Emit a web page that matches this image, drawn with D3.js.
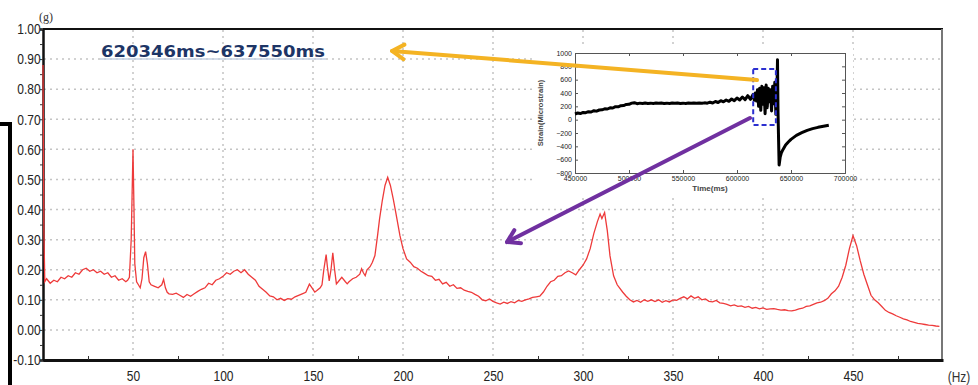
<!DOCTYPE html>
<html>
<head>
<meta charset="utf-8">
<script src="https://cdn.jsdelivr.net/npm/d3@7"></script>
<style>
  body { margin: 0; background: #fff; overflow: hidden; }
  svg { display: block; }
  .tick text { font-family: "Liberation Sans", Arial, sans-serif; fill: #222; }
</style>
</head>
<body>
<svg id="chart" width="978" height="385"></svg>
<script>
// spectrum
var hz = [0,0.5,1,2,4,6,8,10,12,14,16,18,20,22,24,26,28,30,32,34,36,38,40,42,44,46,47,48,49,49.5,50,50.5,51,52,53,54,55,56,57,58,59,60,62,64,66,67,68,69,70,72,74,76,78,80,82,84,86,88,90,92,94,96,98,100,102,104,106,108,110,112,114,116,118,120,122,124,126,128,130,132,134,136,138,140,142,144,146,148,150,151,152,154,155,156,157.3,158,159,160,161,162,163,164,166,168,169,170,172,174,176,177,178,179,180,181.7,183,184.4,186,187,188.5,190,191.5,193,194.6,196,198.3,200,202,204,206,208,210,212,214,216,218,220,222,224,226,228,230,232,234,236,238,240,242,244,246,248,250,252,254,256,258,260,262,264,266,268,270,272,274,276,278,280,282,284,286,288,290,292,294,296,298,300,302,304,306,308,309.5,310.5,312,313.5,315,317,319,322,324,326,328,330,332,334,336,338,340,342,344,346,348,350,352,354,356,358,360,362,364,366,368,370,372,374,376,378,380,382,384,386,388,390,392,394,396,398,400,402,404,406,408,410,412,414,416,418,420,422,424,426,428,430,432,434,436,438,440,442,444,446,448,450,452,454,456,458,460,462,464,466,468,470,472,474,476,478,480,482,484,486,488,490,492,494,496,498];
var amp = [0.88,0.33,0.16,0.17,0.155,0.165,0.16,0.175,0.17,0.18,0.175,0.19,0.185,0.2,0.205,0.195,0.2,0.19,0.195,0.185,0.19,0.175,0.18,0.165,0.17,0.16,0.165,0.175,0.3,0.45,0.6,0.42,0.22,0.16,0.15,0.14,0.17,0.24,0.26,0.22,0.16,0.15,0.145,0.14,0.15,0.168,0.14,0.125,0.12,0.118,0.122,0.115,0.108,0.118,0.112,0.12,0.128,0.135,0.14,0.155,0.15,0.165,0.17,0.178,0.19,0.185,0.195,0.2,0.19,0.2,0.185,0.175,0.165,0.145,0.135,0.125,0.113,0.11,0.1,0.105,0.098,0.104,0.102,0.11,0.115,0.12,0.125,0.152,0.135,0.126,0.13,0.14,0.15,0.2,0.25,0.21,0.163,0.2,0.256,0.2,0.153,0.16,0.175,0.16,0.153,0.16,0.17,0.175,0.185,0.203,0.19,0.18,0.2,0.21,0.225,0.247,0.32,0.37,0.43,0.48,0.507,0.48,0.435,0.39,0.313,0.27,0.236,0.225,0.21,0.205,0.195,0.188,0.18,0.178,0.165,0.168,0.153,0.158,0.145,0.15,0.138,0.14,0.132,0.128,0.125,0.118,0.112,0.1,0.097,0.103,0.095,0.09,0.086,0.092,0.088,0.094,0.09,0.098,0.095,0.1,0.103,0.108,0.11,0.112,0.126,0.145,0.16,0.165,0.178,0.18,0.19,0.196,0.19,0.183,0.2,0.215,0.236,0.27,0.32,0.36,0.385,0.37,0.39,0.33,0.246,0.18,0.15,0.126,0.112,0.1,0.093,0.098,0.092,0.1,0.095,0.1,0.094,0.1,0.092,0.097,0.093,0.1,0.098,0.105,0.11,0.103,0.113,0.105,0.11,0.1,0.103,0.095,0.093,0.098,0.09,0.088,0.085,0.08,0.083,0.078,0.08,0.075,0.078,0.072,0.075,0.07,0.073,0.068,0.07,0.071,0.068,0.066,0.067,0.064,0.063,0.066,0.07,0.072,0.078,0.08,0.085,0.09,0.092,0.097,0.105,0.12,0.13,0.145,0.175,0.215,0.27,0.313,0.28,0.23,0.185,0.15,0.115,0.1,0.09,0.078,0.065,0.058,0.053,0.047,0.042,0.037,0.033,0.028,0.025,0.022,0.02,0.018,0.016,0.015,0.013,0.012];

var xTicks = [50,100,150,200,250,300,350,400,450];
var yTicks = [-0.1,0,0.1,0.2,0.3,0.4,0.5,0.6,0.7,0.8,0.9,1.0];
var title = "620346ms~637550ms";

// inset strain record
var timeMs = [450000,452500,455000,457500,460000,462500,465000,467500,470000,472500,475000,477500,480000,482500,485000,487500,490000,492500,495000,497500,500000,502500,505000,507500,510000,512500,515000,517500,520000,522500,525000,527500,530000,532500,535000,537500,540000,542500,545000,547500,550000,552500,555000,557500,560000,562500,565000,567500,570000,572500,575000,577500,580000,582500,585000,587500,590000,592500,595000,597500,600000,602500,605000,607500,610000,612500,615000,616000,617000,618000,619000,620000,621000,622000,623000,624000,625000,626000,627000,628000,629000,630000,631000,632000,633000,634000,635000,636000,637000,637500,638000,638500,639000,640000,641000,642500,645000,647500,650000,655000,660000,665000,670000,675000,680000,685000];
var strain = [85,100,92,108,105,120,115,135,128,145,148,162,160,178,175,195,192,210,212,228,230,248,255,240,248,242,250,244,248,243,249,245,250,244,248,243,249,245,250,244,248,243,249,246,251,245,250,246,252,248,262,250,272,258,285,268,295,275,310,285,325,295,340,300,360,305,380,290,400,280,450,200,470,140,500,230,480,90,520,180,470,270,450,130,500,240,560,80,420,900,100,-300,-680,-560,-500,-450,-380,-335,-295,-235,-195,-160,-135,-115,-100,-85];
var timeTicks = [450000,500000,550000,600000,650000,700000];
var strainTicks = [-800,-600,-400,-200,0,200,400,600,800,1000];
var windowMs = [615000, 636000];
var windowStrain = [-80, 760];

var svg = d3.select("#chart");

var x = d3.scaleLinear().domain([0, 500]).range([43, 943]);
var y = d3.scaleLinear().domain([-0.1, 1.0]).range([360, 29]);

// dotted grid
svg.append("g").selectAll("line.hg")
    .data(yTicks.filter(function(d) { return d > -0.05 && d < 0.95; }))
  .enter().append("line")
    .attr("x1", 44).attr("x2", 941)
    .attr("y1", function(d) { return y(d); }).attr("y2", function(d) { return y(d); })
    .attr("stroke", "#c4c4c4").attr("stroke-width", 1.5).attr("stroke-dasharray", "2,4");
svg.append("g").selectAll("line.vg")
    .data(xTicks)
  .enter().append("line")
    .attr("x1", function(d) { return x(d); }).attr("x2", function(d) { return x(d); })
    .attr("y1", 30).attr("y2", 359)
    .attr("stroke", "#c4c4c4").attr("stroke-width", 1.5).attr("stroke-dasharray", "2,4");

// frame
svg.append("line").attr("x1", 43).attr("x2", 943).attr("y1", 29).attr("y2", 29)
    .attr("stroke", "#111").attr("stroke-width", 2);
svg.append("line").attr("x1", 942).attr("x2", 942).attr("y1", 29).attr("y2", 361)
    .attr("stroke", "#777").attr("stroke-width", 2);

// axes
var yMinor = d3.range(-0.1, 1.0001, 0.05);
function isMajor(d) { var r = Math.abs(Math.round(d * 20)) % 2; return r === 0; }
var yAxis = svg.append("g").attr("transform", "translate(43,0)")
    .call(d3.axisLeft(y).tickValues(yMinor).tickSize(3)
      .tickFormat(function(d) { return isMajor(d) ? d.toFixed(2) : ""; }));
yAxis.select(".domain").attr("stroke", "#111").attr("stroke-width", 2.5);
yAxis.selectAll(".tick line").attr("stroke", "#333");
yAxis.selectAll(".tick text").attr("x", -3).style("font-size", "15px")
    .attr("transform", "scale(0.8,1)");

var xAxis = svg.append("g").attr("transform", "translate(0,360)")
    .call(d3.axisBottom(x).tickValues(d3.range(25, 500, 25)).tickSize(0)
      .tickFormat(function(d) { return d % 50 === 0 ? d : ""; }));
xAxis.select(".domain").attr("stroke", "#111").attr("stroke-width", 3);
xAxis.selectAll(".tick text").attr("y", 10).style("font-size", "15px")
    .attr("transform", "scale(0.8,1)");
xAxis.selectAll(".tick").filter(function(d) { return d % 50 !== 0; })
  .append("line").attr("y1", 0).attr("y2", -4).attr("stroke", "#333");

svg.append("text").attr("x", 0).attr("y", 0).attr("text-anchor", "middle")
    .attr("transform", "translate(959,382) scale(0.85,1)")
    .style("font-family", "Liberation Sans, Arial, sans-serif").style("font-size", "14px")
    .attr("fill", "#333").text("(Hz)");
svg.append("text").attr("x", 46).attr("y", 21).attr("text-anchor", "middle")
    .style("font-family", "Liberation Serif, serif").style("font-size", "12px")
    .attr("fill", "#333").text("(g)");

// spectrum (on top of the axis, as in the source)
var pts = hz.map(function(h, i) { return [h, amp[i]]; });
svg.append("path")
    .datum(pts)
    .attr("fill", "none")
    .attr("stroke", "#ee3a3a")
    .attr("stroke-width", 1.3)
    .attr("d", d3.line().x(function(d) { return x(d[0]); }).y(function(d) { return y(d[1]); }));

// left bracket
svg.append("path").attr("d", "M0,124H10V385").attr("fill", "none")
    .attr("stroke", "#000").attr("stroke-width", 4);

// title
svg.append("line").attr("x1", 100).attr("x2", 326).attr("y1", 59).attr("y2", 59)
    .attr("stroke", "#c5d0e2").attr("stroke-width", 1.5);
svg.append("text").attr("x", 101).attr("y", 57)
    .attr("textLength", 224).attr("lengthAdjust", "spacingAndGlyphs")
    .style("font-family", "DejaVu Sans, sans-serif").style("font-weight", "bold")
    .style("font-size", "16px").attr("fill", "#1d3566").text(title);

// inset
var ix = d3.scaleLinear().domain([450000, 700000]).range([575, 845]);
var iy = d3.scaleLinear().domain([-800, 1000]).range([173, 53]);
var inset = svg.append("g");
inset.append("rect").attr("x", 532).attr("y", 44).attr("width", 321).attr("height", 152).attr("fill", "#fff");
inset.append("g").attr("transform", "translate(0,173)")
    .call(d3.axisBottom(ix).tickValues(timeTicks).tickSize(-3).tickPadding(3).tickFormat(d3.format("d")));
inset.append("g").attr("transform", "translate(575,0)")
    .call(d3.axisLeft(iy).tickValues(strainTicks).tickSize(-3).tickPadding(3).tickFormat(d3.format("d")));
inset.append("g").attr("transform", "translate(0,53)")
    .call(d3.axisTop(ix).tickValues(timeTicks).tickSize(-3).tickFormat(""));
inset.append("g").attr("transform", "translate(845,0)")
    .call(d3.axisRight(iy).tickValues(strainTicks).tickSize(-3).tickFormat(""));
inset.selectAll(".domain").attr("stroke", "#555").attr("stroke-width", 1);
inset.selectAll(".tick line").attr("stroke", "#555");
inset.selectAll(".tick text").style("font-size", "7px").attr("fill", "#666");
inset.append("text").attr("transform", "translate(543,113) rotate(-90)").attr("text-anchor", "middle")
    .style("font-family", "Liberation Sans, Arial, sans-serif").style("font-size", "7.5px")
    .style("font-weight", "bold").attr("fill", "#444").text("Strain(Microstrain)");
inset.append("text").attr("x", 710).attr("y", 191).attr("text-anchor", "middle")
    .style("font-family", "Liberation Sans, Arial, sans-serif").style("font-size", "8px")
    .style("font-weight", "bold").attr("fill", "#444").text("Time(ms)");
var ipts = timeMs.map(function(t, i) { return [t, strain[i]]; });
inset.append("path").datum(ipts).attr("fill", "none").attr("stroke", "#000")
    .attr("stroke-width", 3).attr("stroke-linejoin", "round")
    .attr("d", d3.line().x(function(d) { return ix(d[0]); }).y(function(d) { return iy(d[1]); }));
inset.append("rect")
    .attr("x", ix(windowMs[0])).attr("y", iy(windowStrain[1]))
    .attr("width", ix(windowMs[1]) - ix(windowMs[0]))
    .attr("height", iy(windowStrain[0]) - iy(windowStrain[1]))
    .attr("fill", "none").attr("stroke", "#2b2fd0").attr("stroke-width", 2).attr("stroke-dasharray", "5,3");

// arrows from the inset to the spectrum
function arrow(x0, y0, x1, y1, color) {
  var a = Math.atan2(y0 - y1, x0 - x1), len = 14, spread = 0.55;
  svg.append("line").attr("x1", x0).attr("y1", y0).attr("x2", x1).attr("y2", y1)
      .attr("stroke", color).attr("stroke-width", 4).attr("stroke-linecap", "round");
  svg.append("path")
      .attr("d", "M" + (x1 + len * Math.cos(a + spread)) + "," + (y1 + len * Math.sin(a + spread)) +
        "L" + x1 + "," + y1 + "L" + (x1 + len * Math.cos(a - spread)) + "," + (y1 + len * Math.sin(a - spread)))
      .attr("fill", "none").attr("stroke", color).attr("stroke-width", 4)
      .attr("stroke-linecap", "round").attr("stroke-linejoin", "round");
}
arrow(ix(618500), iy(595), x(193.9), y(0.927), "#f4b323");
arrow(ix(612000), iy(25), x(257.8), y(0.292), "#7030a0");
</script>
</body>
</html>
